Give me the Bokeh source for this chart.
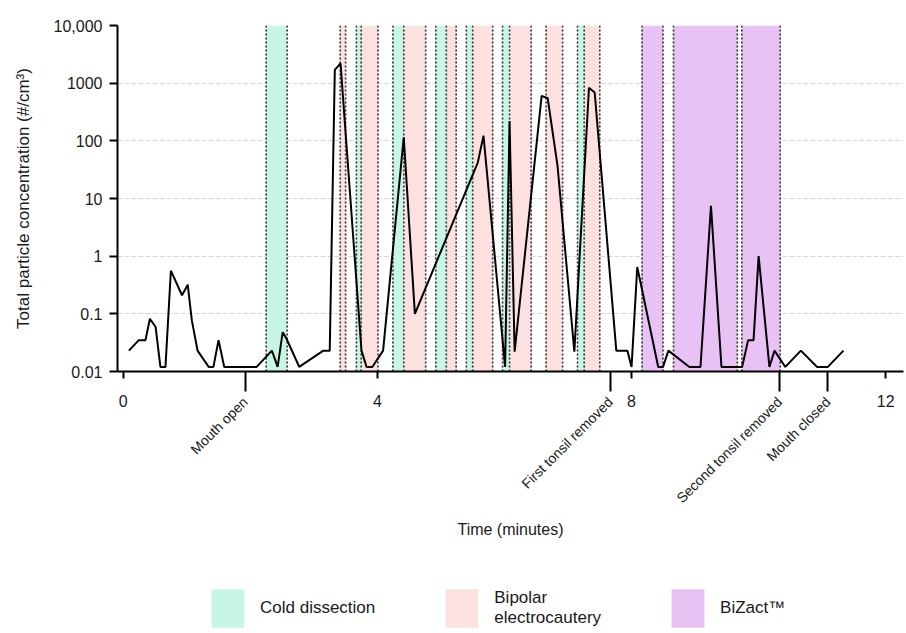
import math
from bokeh.plotting import figure
from bokeh.layouts import column
from bokeh.models import FixedTicker, LinearAxis, Legend, LegendItem, Range1d
from bokeh.embed import file_html
from bokeh.resources import INLINE

# ---- data (minutes / particles per cm3) ----
time_min = [0.09, 0.245, 0.35, 0.42, 0.51, 0.585, 0.665, 0.75, 0.925, 1.015,
            1.08, 1.17, 1.345, 1.42, 1.50, 1.59, 2.10, 2.34, 2.43, 2.51,
            2.57, 2.77, 3.15, 3.25, 3.33, 3.42, 3.75, 3.83, 3.92, 4.09,
            4.415, 4.59, 5.58, 5.67, 6.01, 6.08, 6.16, 6.585, 6.68, 6.835,
            7.10, 7.33, 7.42, 7.76, 7.935, 8.00, 8.09, 8.42, 8.495, 8.58,
            8.91, 9.085, 9.25, 9.415, 9.74, 9.835, 9.92, 10.0, 10.17, 10.25,
            10.42, 10.665, 10.92, 11.09, 11.335]
concentration = [0.023, 0.035, 0.035, 0.082, 0.059, 0.012, 0.012, 0.56, 0.21, 0.32,
                 0.077, 0.023, 0.012, 0.012, 0.035, 0.012, 0.012, 0.023, 0.012, 0.048,
                 0.037, 0.012, 0.023, 0.023, 1700, 2200, 0.023, 0.012, 0.012, 0.023,
                 115, 0.10, 42, 123, 0.012, 220, 0.022, 600, 550, 37,
                 0.022, 830, 690, 0.023, 0.023, 0.012, 0.65, 0.012, 0.012, 0.023,
                 0.012, 0.012, 7.5, 0.012, 0.012, 0.035, 0.035, 1.0, 0.012, 0.023,
                 0.012, 0.023, 0.012, 0.012, 0.023]

cold_start = [2.25, 3.67, 4.245, 4.92, 5.40, 5.97, 7.15]
cold_end = [2.58, 3.745, 4.415, 5.085, 5.50, 6.08, 7.255]
bipolar_start = [3.415, 3.745, 4.415, 5.085, 5.50, 6.08, 6.655, 7.255]
bipolar_end = [3.50, 4.01, 4.76, 5.24, 5.815, 6.42, 6.915, 7.50]
bizact_start = [8.165, 8.66, 9.735]
bizact_end = [8.495, 9.665, 10.34]

x_ticks = [0, 4, 8, 12]
y_ticks = [0.01, 0.1, 1, 10, 100, 1000, 10000]
y_tick_labels = ["0.01", "0.1", "1", "10", "100", "1000", "10,000"]
event_times = [1.92, 7.665, 10.33, 11.09]
event_labels = ["Mouth open", "First tonsil removed", "Second tonsil removed", "Mouth closed"]
legend_labels = ["Cold dissection", "Bipolar\nelectrocautery", "BiZact\u2122"]

FONT = "Liberation Sans"
TXT = "#1a1a1a"
COLD = "#c8f6e4"
BIPOLAR = "#fde0e0"
BIZACT = "#e8c1f5"

p = figure(width=904, height=580, x_range=Range1d(-0.09, 12.28),
           y_range=Range1d(0.01, 10000), y_axis_type="log",
           output_backend="svg", toolbar_location=None,
           min_border_left=117, min_border_right=1, min_border_top=25,
           min_border_bottom=209)
p.outline_line_color = None
p.background_fill_color = "white"

p.quad(left=cold_start, right=cold_end, bottom=0.01, top=10000,
       fill_color=COLD, line_color=None)
p.quad(left=bipolar_start, right=bipolar_end, bottom=0.01, top=10000,
       fill_color=BIPOLAR, line_color=None)
p.quad(left=bizact_start, right=bizact_end, bottom=0.01, top=10000,
       fill_color=BIZACT, line_color=None)

edges = sorted(set(cold_start + cold_end + bipolar_start + bipolar_end + bizact_start + bizact_end))
p.segment(x0=edges, y0=0.01, x1=edges, y1=10000, line_color="#2e2e2e",
          line_dash="2 2", line_width=1.6)

p.line(time_min, concentration, line_color="black", line_width=2)

# grid
p.xgrid.grid_line_color = None
p.ygrid.grid_line_color = "#d6d6d6"
p.ygrid.grid_line_dash = "5 2"
p.ygrid.grid_line_width = 1

# y axis
ya = p.yaxis[0]
ya.ticker = FixedTicker(ticks=y_ticks)
ya.major_label_overrides = dict(zip(y_ticks, y_tick_labels))
ya.axis_label = "Total particle concentration (#/cm\u00b3)"
ya.axis_label_text_font = FONT
ya.axis_label_text_font_size = "17px"
ya.axis_label_text_font_style = "normal"
ya.axis_label_text_color = TXT
ya.axis_label_standoff = 18
ya.major_label_text_font = FONT
ya.major_label_text_font_size = "16px"
ya.major_label_text_color = TXT
ya.major_tick_out = 8
ya.major_tick_in = 0
ya.minor_tick_out = 0
ya.minor_tick_in = 0
ya.major_tick_line_width = 2
ya.axis_line_width = 2
ya.major_label_standoff = 7

# x axis (numeric, event ticks as long minor ticks)
xa = p.xaxis[0]
xa.ticker = FixedTicker(ticks=x_ticks, minor_ticks=event_times)
xa.major_label_text_font = FONT
xa.major_label_text_font_size = "16px"
xa.major_label_text_color = TXT
xa.major_tick_out = 7
xa.major_tick_in = 0
xa.minor_tick_out = 20
xa.minor_tick_in = 0
xa.minor_tick_line_color = "black"
xa.minor_tick_line_width = 2
xa.major_tick_line_width = 2
xa.axis_line_width = 2
xa.major_label_standoff = 3

# event label axis
ev = LinearAxis(ticker=FixedTicker(ticks=event_times),
                major_label_overrides=dict(zip(event_times, event_labels)),
                major_label_orientation=math.pi / 4,
                axis_line_color=None, major_tick_line_color=None,
                major_tick_out=0, major_tick_in=0, minor_tick_out=0, minor_tick_in=0,
                major_label_standoff=-10,
                major_label_text_font=FONT, major_label_text_font_size="14px",
                major_label_text_color=TXT,
                axis_label="Time (minutes)", axis_label_standoff=6,
                axis_label_text_font=FONT, axis_label_text_font_size="16px",
                axis_label_text_font_style="normal", axis_label_text_color=TXT)
p.add_layout(ev, "below")

# ---- legend strip ----
lp = figure(width=904, height=52, x_range=Range1d(0, 1), y_range=Range1d(0, 1),
            output_backend="svg", toolbar_location=None,
            x_axis_location=None, y_axis_location=None,
            min_border=0, min_border_left=0, min_border_right=0,
            min_border_top=0, min_border_bottom=0)
lp.outline_line_color = None
lp.grid.visible = False
l_cold = lp.quad(left=[-3], right=[-2], bottom=[-3], top=[-2], fill_color=COLD, line_color=None)
l_bip = lp.quad(left=[-3], right=[-2], bottom=[-3], top=[-2], fill_color=BIPOLAR, line_color=None)
l_biz = lp.quad(left=[-3], right=[-2], bottom=[-3], top=[-2], fill_color=BIZACT, line_color=None)

legend = Legend(items=[LegendItem(label=legend_labels[0], renderers=[l_cold]),
                       LegendItem(label=legend_labels[1], renderers=[l_bip]),
                       LegendItem(label=legend_labels[2], renderers=[l_biz])],
                orientation="horizontal", location=(90, 0),
                glyph_width=41, glyph_height=48, label_standoff=12,
                label_text_font=FONT, label_text_font_size="17px",
                label_text_color=TXT, spacing=66, padding=2, margin=0,
                border_line_color=None, background_fill_alpha=0)
lp.add_layout(legend, "center")

open("out.html", "w").write(file_html(column(p, lp), INLINE))
